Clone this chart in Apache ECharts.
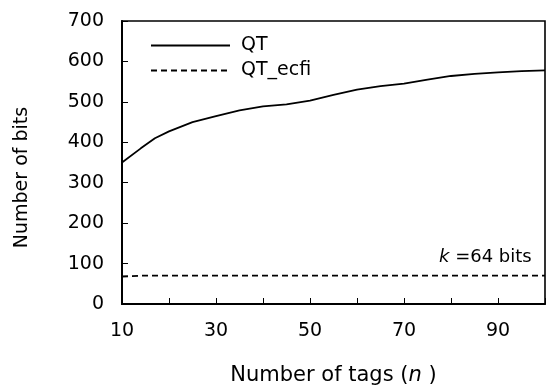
<!DOCTYPE html>
<html>
<head>
<meta charset="utf-8">
<script src="https://cdn.jsdelivr.net/npm/echarts@6/dist/echarts.min.js"></script>
<style>
html,body{margin:0;padding:0;background:#fff;}
#chart{width:548px;height:391px;}
</style>
</head>
<body>
<div id="chart"></div>
<script>
var nValues = [10, 14, 17, 20, 25, 30, 35, 40, 45, 50, 55, 60, 65, 70, 75, 80, 85, 90, 95, 100];
var qtBits = [350, 385, 410, 427, 450, 465, 479, 489, 494, 503, 517, 530, 539, 545, 555, 564, 569, 573, 576, 578];
var ecfiBits = [68, 70, 70, 70, 70, 70, 70, 70, 70, 70, 70, 70, 70, 70, 70, 70, 70, 70, 70, 70];
var xLabelValues = [10, 30, 50, 70, 90];
var seriesNames = ['QT', 'QT_ecfi'];

var FONT = 'DejaVu Sans';
var chart = echarts.init(document.getElementById('chart'), null, {renderer: 'canvas'});

function pairs(xs, ys) { return xs.map(function (x, i) { return [x, ys[i]]; }); }

chart.setOption({
  animation: false,
  backgroundColor: '#fff',
  textStyle: {fontFamily: FONT, color: '#000'},
  grid: {left: 122, top: 21, right: -10.5, bottom: 86, show: true, borderColor: '#000', borderWidth: 1.6, backgroundColor: 'transparent'},
  legend: {
    orient: 'vertical', left: 150, top: 36, padding: 0,
    itemWidth: 79, itemHeight: 14, itemGap: 6,
    itemStyle: {color: 'transparent', borderColor: 'transparent', borderWidth: 0, opacity: 0},
    textStyle: {fontFamily: FONT, fontSize: 19, color: '#000', lineHeight: 19, padding: [0, 0, 0, 6]},
    data: seriesNames
  },
  xAxis: {
    type: 'value', min: 10, max: 100, interval: 10,
    name: 'Number of tags ({i|n} )', nameLocation: 'middle', nameGap: 61,
    nameTextStyle: {fontFamily: FONT, fontSize: 21, color: '#000',
      rich: {i: {fontFamily: FONT, fontSize: 21, fontStyle: 'italic', color: '#000'}}},
    axisLine: {show: true, lineStyle: {color: '#000', width: 2}},
    axisTick: {show: true, inside: true, length: 6, lineStyle: {color: '#000', width: 1}},
    axisLabel: {margin: 18, fontFamily: FONT, fontSize: 19, color: '#000',
      formatter: function (v) { return xLabelValues.indexOf(v) >= 0 ? String(v) : ''; }},
    splitLine: {show: false}
  },
  yAxis: {
    type: 'value', min: 0, max: 700, interval: 100,
    name: 'Number of bits', nameLocation: 'middle', nameGap: 90, nameRotate: 90,
    nameTextStyle: {fontFamily: FONT, fontSize: 19, color: '#000', padding: [0, 30, 0, 0]},
    axisLine: {show: true, lineStyle: {color: '#000', width: 2}},
    axisTick: {show: true, inside: true, length: 6, lineStyle: {color: '#000', width: 1}},
    axisLabel: {margin: 18, fontFamily: FONT, fontSize: 19, color: '#000'},
    splitLine: {show: false}
  },
  series: [
    {name: seriesNames[0], type: 'line', data: pairs(nValues, qtBits), symbol: 'none', smooth: false,
     lineStyle: {color: '#000', width: 1.8, type: 'solid'}, itemStyle: {color: '#000'}},
    {name: seriesNames[1], type: 'line', data: pairs(nValues, ecfiBits), symbol: 'none',
     lineStyle: {color: '#000', width: 1.8, type: [6, 4]}, itemStyle: {color: '#000'}}
  ],
  graphic: [{
    type: 'text', left: 439, top: 248,
    style: {text: '{i|k} =64 bits', fontFamily: FONT, fontSize: 18, fill: '#000',
      rich: {i: {fontFamily: FONT, fontSize: 18, fontStyle: 'italic', fill: '#000'}}}
  }]
});
</script>
</body>
</html>
